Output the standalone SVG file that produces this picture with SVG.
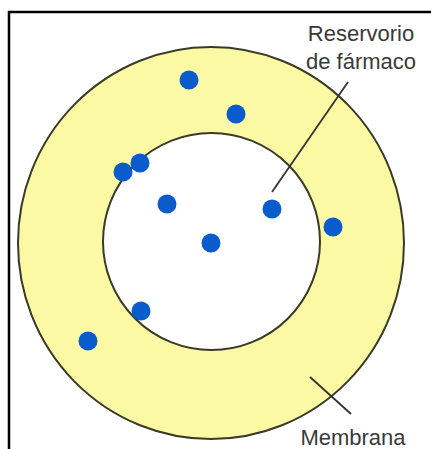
<svg xmlns="http://www.w3.org/2000/svg" width="431" height="449" viewBox="0 0 431 449">
<style>
.frame{stroke:#000;stroke-width:2.5;fill:none}
.ring{stroke:#3a3a28;stroke-width:2;}
.dot{fill:#0a5bcc}
.lead{stroke:#333;stroke-width:1.8;fill:none}
.lbl{font-family:"Liberation Sans",Arial,sans-serif;font-size:22px;fill:#3a3a3a;text-anchor:middle}
</style>
<rect width="431" height="449" fill="#fff"/>
<path class="frame" d="M9,449 V12 H431"/>
<g id="membrana">
<ellipse class="ring" cx="211" cy="243" rx="193" ry="196" fill="#fbf9a3"/>
</g>
<g id="reservorio">
<circle class="ring" cx="211.5" cy="241.5" r="108.5" fill="#fff"/>
</g>
<g id="particulas">
<circle class="dot" cx="189" cy="80" r="9.5"/>
<circle class="dot" cx="236" cy="114" r="9.5"/>
<circle class="dot" cx="123" cy="172" r="9.5"/>
<circle class="dot" cx="140" cy="163" r="9.5"/>
<circle class="dot" cx="167" cy="204" r="9.5"/>
<circle class="dot" cx="272" cy="209" r="9.5"/>
<circle class="dot" cx="211" cy="243" r="9.5"/>
<circle class="dot" cx="333" cy="227" r="9.5"/>
<circle class="dot" cx="141" cy="311" r="9.5"/>
<circle class="dot" cx="88" cy="341" r="9.5"/>
</g>
<g id="connectors">
<line class="lead" x1="272" y1="192" x2="348" y2="82"/>
<line class="lead" x1="310" y1="377" x2="351" y2="414"/>
</g>
<g id="label-reservorio">
<text class="lbl" x="361" y="41">Reservorio</text>
<text class="lbl" x="361" y="69">de fármaco</text>
</g>
<g id="label-membrana">
<text class="lbl" x="353" y="445">Membrana</text>
</g>
</svg>
